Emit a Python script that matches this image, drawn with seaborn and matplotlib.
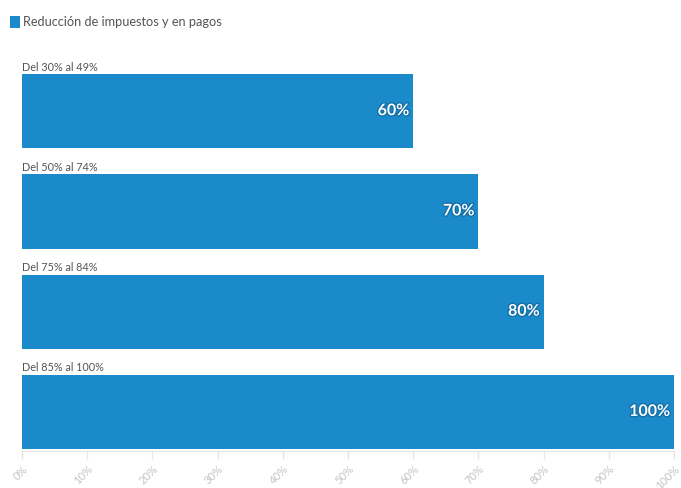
import matplotlib
matplotlib.use("Agg")
import matplotlib.pyplot as plt
import matplotlib.patheffects as pe
import seaborn as sns
import pandas as pd

categories = ["Del 30% al 49%", "Del 50% al 74%", "Del 75% al 84%", "Del 85% al 100%"]
values = [60, 70, 80, 100]
series_name = "Reducción de impuestos y en pagos"
ticks = list(range(0, 101, 10))
tick_labels = [f"{t}%" for t in ticks]

BLUE = "#1b8aca"

sns.set_theme(style="white")
plt.rcParams["font.family"] = ["Lato", "DejaVu Sans"]

df = pd.DataFrame({"cat": categories, "val": values})

fig = plt.figure(figsize=(6.81, 4.88), dpi=100)
ax = fig.add_axes([22 / 681, 1 - 451 / 488, (674 - 22) / 681, (451 - 36) / 488])

sns.barplot(data=df, x="val", y="cat", color=BLUE, width=0.74, saturation=1,
            ax=ax, label=series_name, edgecolor="none")

ax.set_xlim(0, 100)
ax.set_ylim(3.39, -0.75)
ax.set_xlabel("")
ax.set_ylabel("")
ax.set_yticks([])
ax.set_xticks(ticks)
ax.set_xticklabels(tick_labels, rotation=45, ha="right", rotation_mode="anchor",
                   fontsize=8, color="#c4c4c4")
ax.tick_params(axis="x", length=6, width=1, color="#e6e6e6", pad=3, bottom=True)

for s in ["top", "right", "left"]:
    ax.spines[s].set_visible(False)
ax.spines["bottom"].set_color("#e6e6e6")
ax.spines["bottom"].set_linewidth(1)

for i, (c, v) in enumerate(zip(categories, values)):
    ax.text(0, i - 0.385, c, ha="left", va="bottom", fontsize=7.8, color="#555555")
    ax.text(v - 0.6, i, f"{v}%", ha="right", va="center", fontsize=11.5,
            fontweight="bold", color="white",
            path_effects=[pe.withStroke(linewidth=2, foreground="#1570a8")])

leg = ax.legend(loc="upper left", bbox_to_anchor=(10 / 681, 1 - 16 / 488),
                bbox_transform=fig.transFigure, frameon=False, fontsize=9.2,
                handlelength=0.75, handleheight=1.1, handletextpad=0.3,
                borderaxespad=0, borderpad=0)
for t in leg.get_texts():
    t.set_color("#555555")

fig.savefig("out.png", dpi=100)
